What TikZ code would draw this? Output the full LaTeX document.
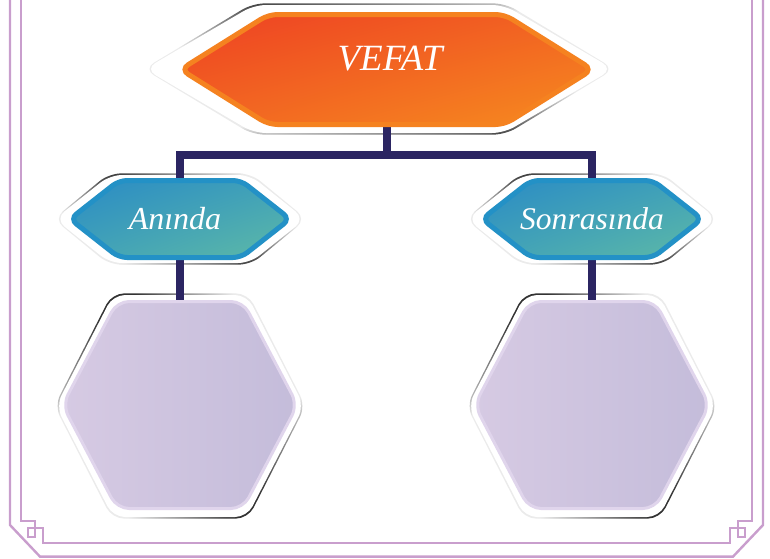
\documentclass[tikz,border=0pt]{standalone}
\usepackage{fontspec}
\setmainfont{Liberation Serif}
\usetikzlibrary{shadings}
\definecolor{bordpurple}{HTML}{C99ECD}
\definecolor{navy}{HTML}{2B2562}
\definecolor{orUL}{HTML}{EE4123}
\definecolor{orLR}{HTML}{F68B1F}
\definecolor{orMid}{HTML}{F26522}
\definecolor{orBorder}{HTML}{F58220}
\definecolor{blUL}{HTML}{2A8BC5}
\definecolor{blLR}{HTML}{5EBAA6}
\definecolor{blMid}{HTML}{41A2B8}
\definecolor{blBorder}{HTML}{2391C6}
\definecolor{lvL}{HTML}{D6CAE3}
\definecolor{lvR}{HTML}{C4BCDA}
\definecolor{lvBorder}{HTML}{E0D5EC}
\pgfdeclareverticalshading{ringsh}{100bp}{color(0bp)=(black!80); color(25bp)=(black!80); color(37bp)=(black!8); color(63bp)=(black!8); color(75bp)=(black!80); color(100bp)=(black!80)}
\newcommand\myhex[5]{({#1-#3},{#2}) -- ({#1-#4},{#2-#5}) -- ({#1+#4},{#2-#5}) -- ({#1+#3},{#2}) -- ({#1+#4},{#2+#5}) -- ({#1-#4},{#2+#5}) -- cycle}
\tikzset{
  conn/.style={draw=navy, line width=8pt},
  bord/.style={draw=bordpurple, line width=2.4pt, line join=miter},
  halo/.style={fill=white, rounded corners=12pt},
  ring/.style={rounded corners=12pt, shading=ringsh},
  orhex/.style={draw=orBorder, line width=5pt, rounded corners=9pt,
    upper left=orUL, lower right=orLR, upper right=orMid, lower left=orMid},
  blhex/.style={draw=blBorder, line width=5pt, rounded corners=8pt,
    upper left=blUL, lower right=blLR, upper right=blMid, lower left=blMid},
  lvhex/.style={draw=lvBorder, line width=3pt, rounded corners=12pt,
    left color=lvL, right color=lvR},
  lbl/.style={text=white, font=\itshape}
}
\begin{document}
\begin{tikzpicture}[x=1pt,y=-1pt]
\useasboundingbox (0,0) rectangle (770,558);
% frame
\draw[bord] (10,0) -- (10,525) -- (40,556.6) -- (733,556.6) -- (763,525) -- (763,0);
\draw[bord] (21,0) -- (21,521) -- (35,521) -- (35,537) -- (28,537) -- (28,528) -- (43,528) -- (43,543)
  -- (730,543) -- (730,528) -- (745,528) -- (745,537) -- (738,537) -- (738,521) -- (752,521) -- (752,0);
% anchor coordinates
\coordinate (c-top) at (386.5,69.5);
\coordinate (c-left) at (180,219);
\coordinate (c-right) at (592,219);
\coordinate (c-lbig) at (180,405);
\coordinate (c-rbig) at (592,405);
\coordinate (bar) at (386.5,155);
% halos
\shade[ring, shading angle=6] \myhex{379}{69}{235.5}{126.5}{65.6};
\fill[halo] \myhex{379}{69}{234}{125}{64};
\foreach \cx in {180,592}{
  \shade[ring, shading angle=12] \myhex{\cx}{219}{126.5}{71}{45.6};
  \fill[halo] \myhex{\cx}{219}{125}{70}{44};
  \shade[ring, shading angle=35] \myhex{\cx}{406}{125.5}{68}{112.6};
  \fill[halo] \myhex{\cx}{406}{124}{67}{111};
}
% connectors
\draw[conn] (c-top) -- (bar);
\draw[conn] (c-left) |- (bar) -| (c-right);
\draw[conn] (c-left) -- (c-lbig);
\draw[conn] (c-right) -- (c-rbig);
% coloured hexagons
\shadedraw[orhex] \myhex{386.5}{69.5}{206}{118}{55};
\foreach \cx in {180,592}{
  \shadedraw[blhex] \myhex{\cx}{219}{110}{61}{38.5};
  \shadedraw[lvhex] \myhex{\cx}{405}{117.5}{63}{103.5};
}
% labels
\node[lbl, font=\itshape\fontsize{37}{40}\selectfont] (vefat) at (390,59) {VEFAT};
\node[lbl, font=\itshape\fontsize{32}{34}\selectfont] (aninda) at (175,219) {Anında};
\node[lbl, font=\itshape\fontsize{31.5}{34}\selectfont] (sonra) at (592,218.5) {Sonrasında};
\end{tikzpicture}
\end{document}
